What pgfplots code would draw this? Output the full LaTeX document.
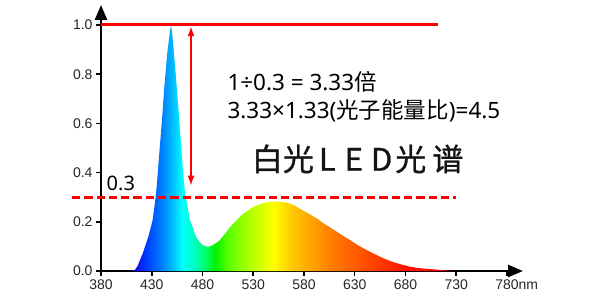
\documentclass[border=0pt]{standalone}
\usepackage{fontspec}
\setmainfont{Liberation Sans}
\newfontfamily\cjk{Noto Sans CJK SC}
\newfontfamily\cjkbig[FakeBold=0.9]{Noto Sans CJK SC}
\newfontfamily\ann{Noto Sans}
\usepackage{pgfplots}
\pgfplotsset{compat=1.18}
\usetikzlibrary{arrows.meta}
\definecolor{pured}{RGB}{255,0,0}
\pgfdeclarehorizontalshading{spec}{100bp}{rgb(0bp)=(0.08,0,0.9); rgb(25.16bp)=(0.08,0,0.9); rgb(27.38bp)=(0,0.24,1); rgb(29.76bp)=(0,0.5,1); rgb(31.67bp)=(0,0.78,1); rgb(32.94bp)=(0,1,1); rgb(34.84bp)=(0,1,0.75); rgb(36.43bp)=(0,1,0.45); rgb(38.02bp)=(0,0.95,0); rgb(40.08bp)=(0.35,1,0); rgb(43.25bp)=(0.67,1,0); rgb(47.22bp)=(1,1,0); rgb(49.6bp)=(1,0.82,0); rgb(51.98bp)=(1,0.69,0); rgb(56.75bp)=(1,0.47,0); rgb(62.3bp)=(1,0.28,0); rgb(67.86bp)=(1,0.08,0); rgb(75bp)=(1,0,0); rgb(100bp)=(1,0,0)}
\pgfplotstableread{
x y
410 0
413.5 0.005
416 0.02
418.4 0.045
421 0.07
423.3 0.099
426.6 0.139
430.9 0.207
433.9 0.302
434.9 0.343
437.4 0.478
440.1 0.614
442.4 0.749
445.3 0.885
447.5 0.96
449 1.0
450.3 0.96
451.9 0.885
454.6 0.749
457.1 0.614
459.5 0.478
462.1 0.343
463.4 0.302
467.7 0.207
473.6 0.139
477 0.118
480 0.106
483 0.100
486 0.099
489 0.103
493 0.112
497 0.125
502 0.150
507 0.178
513.7 0.207
520 0.232
530 0.261
540 0.276
546.5 0.282
555 0.282
563 0.278
570 0.268
576 0.253
585 0.232
592.5 0.214
600 0.192
608.9 0.169
617 0.147
625.3 0.126
633 0.105
641.8 0.085
650 0.068
658.1 0.052
666 0.039
674.6 0.028
683 0.019
691 0.013
700 0.009
707.4 0.007
715 0.004
722 0.001
725 0
}\spectrum
\begin{document}
\begin{tikzpicture}[x=1bp,y=1bp]
\useasboundingbox (0,0) rectangle (600,300);
\begin{axis}[
  at={(101bp,29bp)}, anchor=south west,
  scale only axis, width=422bp, height=266bp,
  xmin=380, xmax=795.8, ymin=0, ymax=1.0813,
  axis lines=left, clip=false,
  axis line style={line width=2.5bp, black, -{Triangle[length=15bp,width=12bp]}},
  xtick={380,430,480,530,580,630,680,730,780},
  xticklabels={380,430,480,530,580,630,680,730,780\rlap{nm}},
  ytick={0,0.2,0.4,0.6,0.8,1},
  yticklabel style={/pgf/number format/fixed, /pgf/number format/fixed zerofill, /pgf/number format/precision=1},
  /pgf/number format/assume math mode=true,
  tick align=outside, major tick length=5bp,
  tick style={black, line width=1.5bp},
  tick label style={font=\fontsize{14bp}{14bp}\selectfont, text=black!85},
]
\addplot[draw=none, shading=spec] table[x=x,y=y] {\spectrum} \closedcycle;
\addplot[pured, line width=3bp, no marks] coordinates {(380,1) (712,1)};
\addplot[pured, line width=2.8bp, no marks, dash pattern=on 8.3bp off 4bp] coordinates {(351.4,0.3) (729.8,0.3)};
\addplot[pured, line width=1.6bp, no marks, {Latex[length=10bp,width=7bp]}-{Latex[length=10bp,width=7bp]}] coordinates {(468.7,0.995) (468.7,0.347)};
\end{axis}
\node[anchor=base west, inner sep=0, font=\ann\fontsize{20bp}{20bp}\selectfont] at (106.5bp,110bp) {0.3};
\node[anchor=base west, inner sep=0, font=\ann\fontsize{22.5bp}{27bp}\selectfont] at (227.3bp,209bp) {1÷0.3 = 3.33{\cjk 倍}};
\node[anchor=base west, inner sep=0, font=\ann\fontsize{22.5bp}{27bp}\selectfont] at (227.3bp,181.7bp) {3.33×1.33({\cjk 光子能量比})=4.5};
\node[anchor=base west, inner sep=0, text=black!92, font=\cjkbig\fontsize{31bp}{31bp}\selectfont] at (251.7bp,129.3bp) {白光\hspace{5bp}L\hspace{9bp}E\hspace{8bp}D\hspace{3bp}光\hspace{6bp}谱};
\end{tikzpicture}
\end{document}
